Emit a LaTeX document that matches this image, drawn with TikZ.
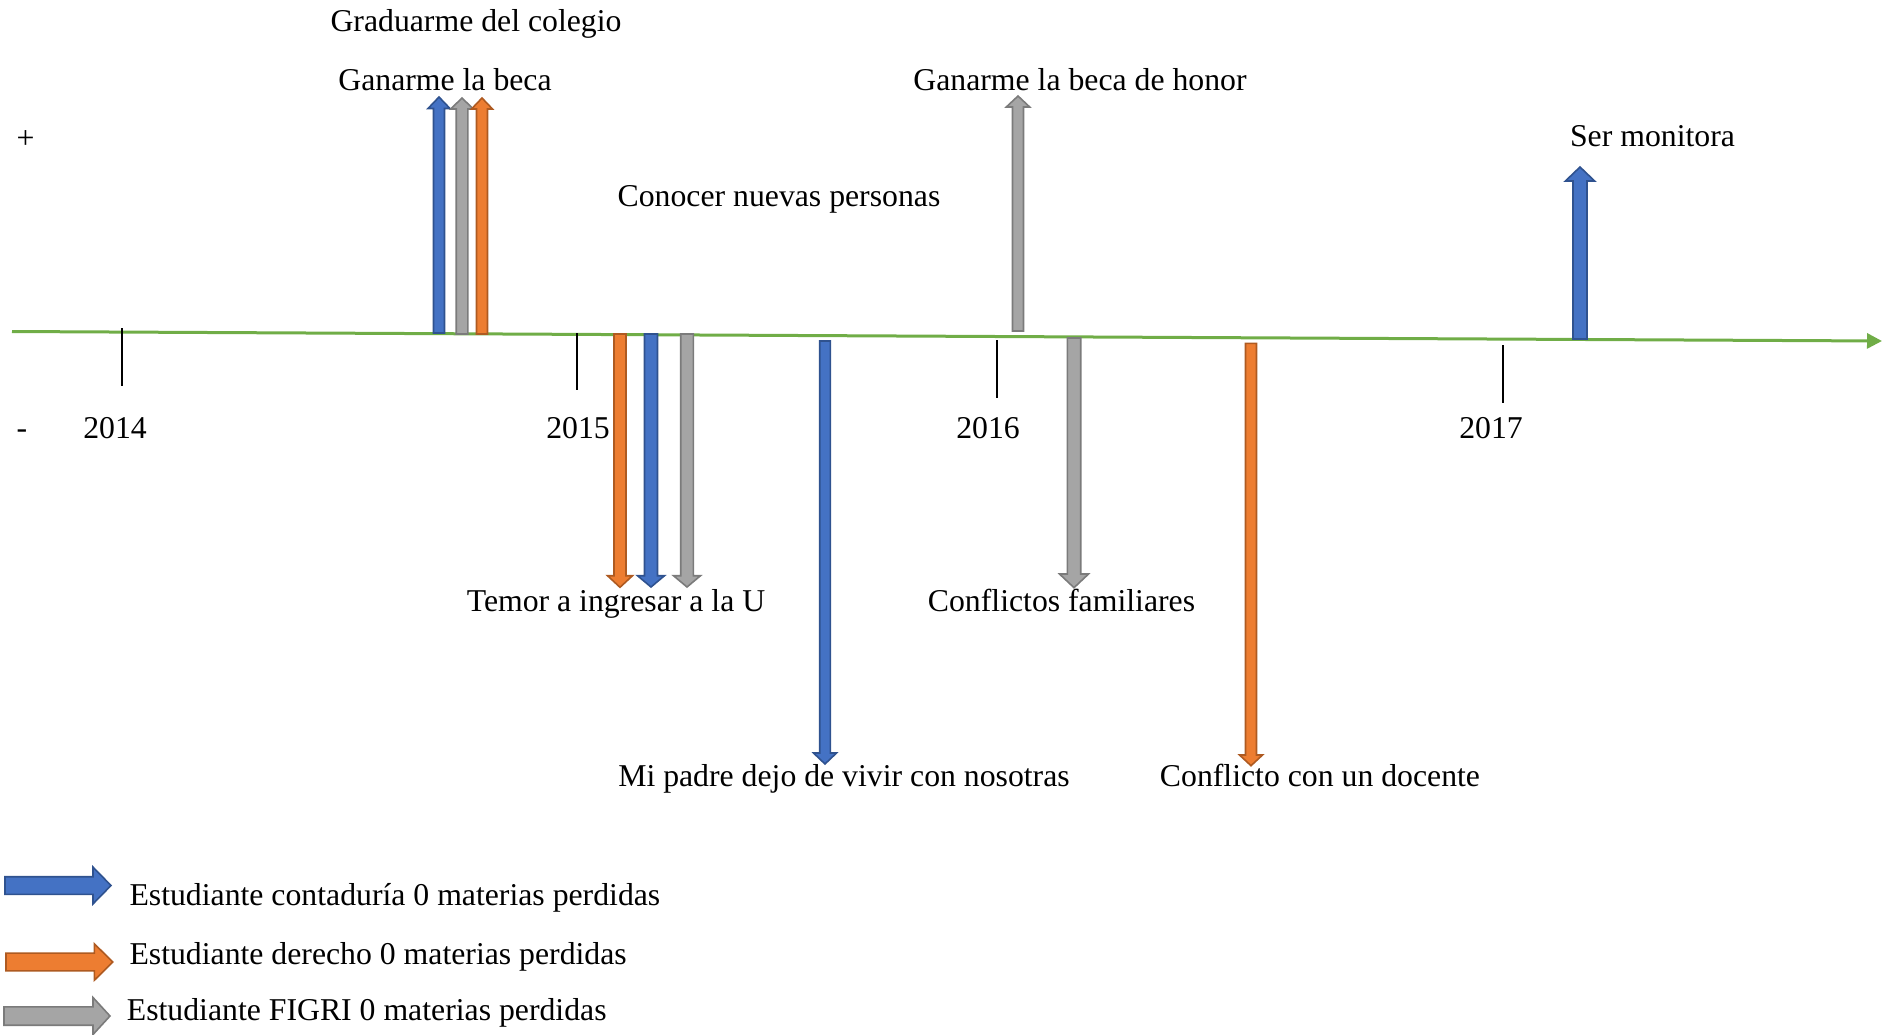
\documentclass[tikz,border=0pt]{standalone}
\usepackage{fontspec}
\setmainfont{Liberation Serif}
\usetikzlibrary{arrows.meta}
\definecolor{cblue}{HTML}{4472C4}
\definecolor{cblueb}{HTML}{2F528F}
\definecolor{corange}{HTML}{ED7D31}
\definecolor{corangeb}{HTML}{AE5A21}
\definecolor{cgray}{HTML}{A5A5A5}
\definecolor{cgrayb}{HTML}{7B7B7B}
\definecolor{cgreen}{HTML}{70AD47}
% vertical block arrow: style, cx, tail y, tip y, shaft half width, head half width, head base y
\newcommand\vblock[7]{%
  \filldraw[#1] ({#2-#5},#3) -- ({#2-#5},#7) -- ({#2-#6},#7) -- (#2,#4) -- ({#2+#6},#7) -- ({#2+#5},#7) -- ({#2+#5},#3) -- cycle;}
% horizontal block arrow: style, cy, tail x, tip x, shaft half height, head half height, head base x
\newcommand\hblock[7]{%
  \filldraw[#1] (#3,{#2-#5}) -- (#7,{#2-#5}) -- (#7,{#2-#6}) -- (#4,#2) -- (#7,{#2+#6}) -- (#7,{#2+#5}) -- (#3,{#2+#5}) -- cycle;}
\tikzset{
  blk/.style={line width=1.6pt, line join=miter},
  barblue/.style={blk, fill=cblue, draw=cblueb},
  barorange/.style={blk, fill=corange, draw=corangeb},
  bargray/.style={blk, fill=cgray, draw=cgrayb},
  lbl/.style={font=\fontsize{31.75}{38}\selectfont, inner sep=0pt, anchor=base},
  lgd/.style={lbl, anchor=base west},
  tickline/.style={line width=2pt, black},
  axis/.style={line width=3pt, cgreen, -{Triangle[length=15pt,width=15pt]}}
}
\begin{document}
\begin{tikzpicture}[x=1pt, y=-1pt]
\useasboundingbox (0,0) rectangle (1893,1034);
% time axis
\coordinate (axs) at (12,331.5);
\coordinate (axe) at (1882,341);
\draw[axis] (axs) -- (axe);
% year ticks
\coordinate (t14a) at (122,328);   \coordinate (t14b) at (122,386);
\coordinate (t15a) at (577,333);   \coordinate (t15b) at (577,390);
\coordinate (t16a) at (997,340);   \coordinate (t16b) at (997,398);
\coordinate (t17a) at (1503,345);  \coordinate (t17b) at (1503,403);
\draw[tickline] (t14a) -- (t14b);
\draw[tickline] (t15a) -- (t15b);
\draw[tickline] (t16a) -- (t16b);
\draw[tickline] (t17a) -- (t17b);
\node[lbl] (y14) at (115,438) {2014};
\node[lbl] (y15) at (578,438) {2015};
\node[lbl] (y16) at (988,438) {2016};
\node[lbl] (y17) at (1491,438) {2017};
\node[lbl] (plus) at (25.5,148) {+};
\node[lbl] (minus) at (22,438) {-};
% upward block arrows
\vblock{barblue}{439}{333}{97}{5.5}{11}{108.5}
\vblock{bargray}{462}{334}{98}{5.8}{11.3}{109}
\vblock{barorange}{482}{334}{98}{5.5}{10.5}{109}
\vblock{bargray}{1018}{331}{96}{5.5}{11.7}{107}
\vblock{barblue}{1580}{339}{167}{7}{14.6}{181}
% downward block arrows
\vblock{barorange}{620}{334}{587.3}{6}{12.5}{575.7}
\vblock{barblue}{651}{334}{587}{6.5}{13.5}{575.7}
\vblock{bargray}{687}{334}{587}{6.3}{13.5}{575.7}
\vblock{barblue}{825}{341}{764}{5.3}{11.5}{753}
\vblock{bargray}{1074}{338}{587.7}{6.7}{14.5}{574}
\vblock{barorange}{1251}{343.3}{765.7}{5.5}{11.5}{755}
% event labels
\node[lbl] (grad) at (476,31.7) {Graduarme del colegio};
\node[lbl] (beca) at (445,90) {Ganarme la beca};
\node[lbl] (honor) at (1080,90) {Ganarme la beca de honor};
\node[lbl] (monit) at (1652.5,146.7) {Ser monitora};
\node[lbl] (conoc) at (779,206) {Conocer nuevas personas};
\node[lbl] (temor) at (616,611.7) {Temor a ingresar a la U};
\node[lbl] (famil) at (1061.5,611.7) {Conflictos familiares};
\node[lbl] (padre) at (844,786.7) {Mi padre dejo de vivir con nosotras};
\node[lbl] (docen) at (1320,786.7) {Conflicto con un docente};
% legend
\hblock{barblue}{885.5}{5}{111}{8.8}{18.4}{93}
\hblock{barorange}{962}{6}{112.7}{8.85}{18.3}{94.3}
\hblock{bargray}{1016}{4}{110}{9.2}{18.5}{93}
\node[lgd] (lg1) at (129.3,905) {Estudiante contaduría 0 materias perdidas};
\node[lgd] (lg2) at (129.3,964) {Estudiante derecho 0 materias perdidas};
\node[lgd] (lg3) at (126.7,1020.7) {Estudiante FIGRI 0 materias perdidas};
\end{tikzpicture}
\end{document}
